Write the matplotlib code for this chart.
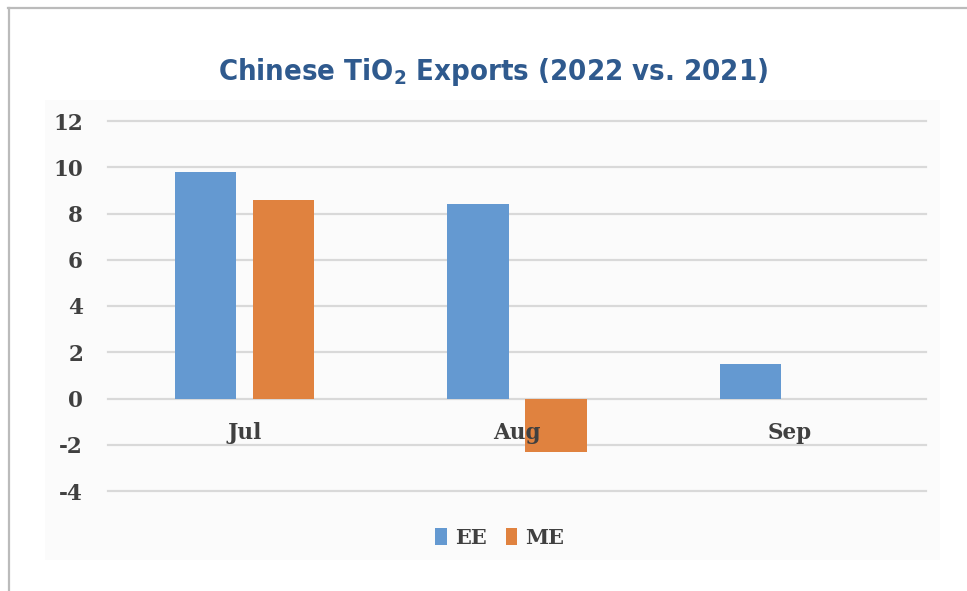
import matplotlib
matplotlib.use("Agg")
import matplotlib.pyplot as plt
import numpy as np
from matplotlib.lines import Line2D
from matplotlib.patches import Rectangle

# data
months = ["Jul", "Aug", "Sep"]
ee_values = [9.8, 8.4, 1.5]
me_values = [8.6, -2.3, 0.0]
y_ticks = [-4, -2, 0, 2, 4, 6, 8, 10, 12]

BLUE = "#6499D1"
ORANGE = "#E0823F"
TITLE_BLUE = "#2F5A8E"
TEXT_GRAY = "#404040"
GRID_GRAY = "#D9D9D9"

plt.rcParams["axes.unicode_minus"] = False
plt.rcParams["mathtext.fontset"] = "custom"
plt.rcParams["mathtext.bf"] = "DejaVu Sans:weight=bold:stretch=condensed"
plt.rcParams["mathtext.rm"] = "DejaVu Sans:stretch=condensed"

fig = plt.figure(figsize=(9.67, 5.91), dpi=100)
fig.patch.set_facecolor("white")

# faint chart panel and outer frame
fig.patches.append(Rectangle((45 / 967, 1 - 560 / 591), 895 / 967, 460 / 591,
                             transform=fig.transFigure, facecolor="#FBFBFB",
                             edgecolor="none", zorder=-5))
fig.lines.append(Line2D([9 / 967, 9 / 967], [0, 1 - 8 / 591], transform=fig.transFigure,
                        color="#BBBBBB", lw=1.6))
fig.lines.append(Line2D([8 / 967, 1], [1 - 8 / 591, 1 - 8 / 591], transform=fig.transFigure,
                        color="#BBBBBB", lw=1.6))

ax = fig.add_axes([108 / 967, 1 - 491 / 591, 818 / 967, 370 / 591])
ax.set_facecolor("none")
ax.set_zorder(2)

x = np.arange(len(months))
width = 0.224
offset = 0.143
ax.bar(x - offset, ee_values, width, color=BLUE, label="EE", zorder=3)
ax.bar(x + offset, me_values, width, color=ORANGE, label="ME", zorder=3)

ax.set_xlim(-0.5, len(months) - 0.5)
ax.set_ylim(-4, 12)
ax.set_yticks(y_ticks)
ax.yaxis.grid(True, color=GRID_GRAY, lw=1.6, zorder=1)
for gl in ax.get_ygridlines():
    gl.set_clip_on(False)
ax.set_axisbelow(True)

for side in ["top", "right", "left", "bottom"]:
    ax.spines[side].set_visible(False)

ax.set_xticks([])
ax.tick_params(axis="y", length=0, pad=18)
for lbl in ax.get_yticklabels():
    lbl.set_fontfamily("DejaVu Serif")
    lbl.set_fontweight("bold")
    lbl.set_fontsize(15.5)
    lbl.set_color(TEXT_GRAY)

# category labels sit just under the zero line, on top of the bars
for xi, name in zip(x, months):
    ax.annotate(name, (xi, 0), xytext=(0, -24.5), textcoords="offset points",
                ha="center", va="center", fontsize=15.5, fontweight="bold",
                family="DejaVu Serif", color=TEXT_GRAY, zorder=5)

fig.text(493 / 967, 1 - 72 / 591, r"Chinese TiO$\mathbf{_2}$ Exports (2022 vs. 2021)",
         ha="center", va="center", fontsize=21, fontweight="bold", fontstretch="condensed",
         family="DejaVu Sans", color=TITLE_BLUE)

leg = fig.legend(loc="center", bbox_to_anchor=(500 / 967, 1 - 538 / 591), ncol=2,
                 frameon=False, handlelength=0.55, handleheight=0.9, handletextpad=0.4,
                 columnspacing=0.9, prop={"family": "DejaVu Serif", "weight": "bold", "size": 15})
for t in leg.get_texts():
    t.set_color(TEXT_GRAY)

fig.savefig("out.png", dpi=100)
